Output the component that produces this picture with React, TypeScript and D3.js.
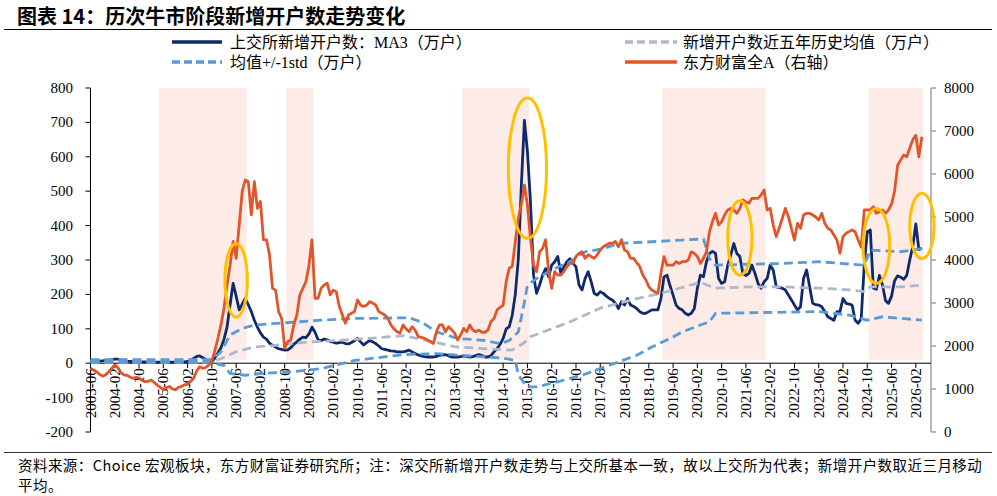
import React from "react";
import * as d3 from "d3";

// months counted from 2003-06
const START_YEAR = 2003;
const START_MONTH = 6;

const tickLabels = [
  "2003-06", "2004-02", "2004-10", "2005-06", "2006-02", "2006-10", "2007-06",
  "2008-02", "2008-10", "2009-06", "2010-02", "2010-10", "2011-06", "2012-02",
  "2012-10", "2013-06", "2014-02", "2014-10", "2015-06", "2016-02", "2016-10",
  "2017-06", "2018-02", "2018-10", "2019-06", "2020-02", "2020-10", "2021-06",
  "2022-02", "2022-10", "2023-06", "2024-02", "2024-10", "2025-06", "2026-02",
];

const leftTicks = [800, 700, 600, 500, 400, 300, 200, 100, 0, -100, -200];
const rightTicks = [8000, 7000, 6000, 5000, 4000, 3000, 2000, 1000, 0];

// 上交所新增开户数 MA3（万户），monthly from 2003-06
const ma3Values = [
  5, 5, 6, 6, 7, 8, 9,
  10, 12, 12, 10, 8, 6, 5, 5, 4, 4, 4, 4,
  4, 3, 3, 3, 3, 3, 3, 3, 3, 3, 3, 3,
  4, 5, 8, 14, 20, 21, 16, 10, 6, 5, 15, 30,
  45, 70, 105, 170, 232, 195, 155, 172, 188, 170, 150, 125,
  105, 88, 76, 70, 58, 52, 47, 42, 40, 38, 39, 45,
  55, 62, 70, 76, 74, 85, 105, 90, 68, 66, 70, 68,
  63, 61, 58, 60, 61, 57, 56, 60, 65, 72, 62, 53,
  60, 66, 62, 57, 50, 42, 40, 38, 36, 35, 33, 33,
  33, 35, 38, 33, 28, 24, 21, 19, 18, 18, 18, 20,
  23, 24, 25, 22, 18, 18, 18, 19, 21, 20, 18, 19,
  22, 25, 22, 18, 18, 22, 33, 42, 55, 72, 100, 106,
  140, 200, 304, 518, 706, 615, 469, 256, 203, 227, 256, 275,
  251, 285, 295, 310, 261, 280, 295, 304, 290, 280, 227, 213,
  246, 266, 237, 203, 198, 208, 203, 195, 188, 184, 174, 159,
  179, 169, 188, 169, 165, 159, 150, 145, 145, 150, 155, 155,
  155, 188, 251, 256, 225, 198, 169, 159, 155, 145, 140, 145,
  159, 218, 256, 251, 295, 319, 325, 319, 246, 232, 237, 285,
  314, 348, 319, 310, 261, 255, 261, 285, 261, 232, 218, 237,
  246, 285, 271, 222, 220, 218, 213, 198, 184, 169, 155, 164,
  246, 271, 222, 174, 170, 169, 164, 150, 135, 130, 125, 150,
  150, 188, 174, 172, 169, 125, 116, 130, 285, 382, 387, 218,
  215, 255, 228, 182, 174, 195, 240, 254, 250, 244, 255, 300,
  340, 405, 330, 335,
];

// 东方财富全A（右轴），monthly from 2003-06
const indexValues = [
  1480, 1440, 1400, 1340, 1300, 1330, 1400,
  1480, 1560, 1500, 1380, 1330, 1320, 1280, 1250, 1270, 1260, 1200, 1170,
  1180, 1210, 1150, 1090, 1040, 990, 1030, 1060, 1000, 980, 1040, 1060,
  1100, 1110, 1180, 1250, 1420, 1520, 1480, 1500, 1560, 1640, 1900, 2180,
  2490, 2880, 3420, 3880, 4430, 4040, 4810, 5590, 5860, 5820, 5050, 5820,
  5200, 5360, 4470, 4470, 4120, 3340, 3300, 2800, 2640, 1950, 2100, 2140,
  2490, 2720, 3190, 3340, 3500, 3880, 4470, 3110, 3110, 3340, 3420, 3460,
  3190, 3300, 3260, 2920, 2720, 2530, 2720, 2760, 2800, 3070, 2950, 2920,
  2950, 3030, 3000, 2950, 2800, 2760, 2720, 2640, 2490, 2400, 2330, 2300,
  2490, 2400, 2330, 2450, 2370, 2220, 2200, 2180, 2140, 2100, 2060, 2330,
  2490, 2490, 2330, 2450, 2380, 2300, 2140, 2260, 2410, 2330, 2490, 2370,
  2330, 2370, 2320, 2320, 2370, 2570, 2640, 2840, 2900, 2950, 3500, 3810,
  3850, 4430, 4970, 5300, 5740, 5280, 4500, 3880, 3730, 4190, 4270, 4470,
  3730, 3340, 3730, 3650, 3650, 3730, 3850, 3920, 3920, 4080, 4150, 4190,
  4040, 4120, 4080, 4040, 4120, 4230, 4310, 4350, 4390, 4390, 4430, 4310,
  4470, 4230, 4190, 4040, 4040, 3940, 3850, 3650, 3540, 3380, 3300, 3260,
  3225, 3690, 4080, 3880, 3880, 3880, 3960, 3920, 3960, 3960, 4000, 4190,
  4155, 4080, 3920, 4040, 4190, 4660, 4900, 5085, 4814, 4892, 5046, 5163,
  5200, 5163, 5085, 5200, 5395, 5350, 5318, 5434, 5434, 5434, 5511, 5628,
  5163, 5201, 4814, 4543, 4750, 4969, 5201, 5008, 4736, 4465, 4853, 4736,
  5046, 5085, 5085, 5046, 5000, 4930, 5085, 4853, 4736, 4698, 4581, 4465,
  4155, 4543, 4620, 4660, 4698, 4659, 4465, 4300, 5163, 5163, 5163, 5240,
  5085, 5124, 5163, 5085, 5163, 5300, 5600, 6200, 6326, 6442, 6400, 6600,
  6800, 6900, 6400, 6868,
];

// 新增开户数近五年历史均值（万户）
const meanPoints: [string, number][] = [
  ["2003-06", 5], ["2006-10", 5], ["2007-01", 13], ["2007-06", 33], ["2007-12", 47],
  ["2008-07", 52], ["2009-05", 61], ["2010-03", 66], ["2011-02", 72], ["2012-01", 80],
  ["2012-10", 64], ["2013-06", 48], ["2014-04", 42], ["2015-01", 38], ["2015-05", 60],
  ["2015-07", 77], ["2016-08", 120], ["2017-06", 160], ["2018-06", 188], ["2019-02", 203],
  ["2020-03", 235], ["2020-05", 228], ["2020-08", 218], ["2021-07", 222], ["2022-06", 222],
  ["2023-06", 218], ["2024-04", 213], ["2024-09", 208], ["2024-11", 222], ["2025-09", 222],
  ["2026-04", 227],
];

// 均值+1std
const upperPoints: [string, number][] = [
  ["2003-06", 10], ["2006-10", 10], ["2007-01", 33], ["2007-04", 82], ["2007-08", 101],
  ["2007-12", 111], ["2008-06", 115], ["2009-10", 125], ["2010-09", 130], ["2012-03", 132],
  ["2012-07", 120], ["2012-12", 91], ["2013-07", 72], ["2014-04", 66], ["2014-09", 57],
  ["2014-12", 66], ["2015-03", 91], ["2015-05", 178], ["2015-06", 227], ["2015-09", 246],
  ["2016-02", 271], ["2016-08", 295], ["2017-01", 324], ["2017-07", 333], ["2017-12", 348],
  ["2018-11", 353], ["2019-09", 358], ["2020-04", 361], ["2020-06", 304], ["2020-08", 285],
  ["2022-06", 290], ["2023-06", 295], ["2024-09", 285], ["2024-11", 329], ["2025-09", 324],
  ["2026-04", 333],
];

// 均值-1std
const lowerPoints: [string, number][] = [
  ["2003-06", 2], ["2006-10", 2], ["2007-02", -7], ["2007-04", -30], ["2007-09", -35],
  ["2008-02", -30], ["2008-11", -26], ["2009-10", -16], ["2010-09", 8], ["2011-02", 13],
  ["2012-01", 25], ["2012-12", 28], ["2013-11", 21], ["2014-10", 15], ["2015-02", 8],
  ["2015-03", -35], ["2015-06", -69], ["2015-09", -69], ["2016-04", -54], ["2016-12", -35],
  ["2017-09", -6], ["2018-06", 23], ["2018-11", 47], ["2019-05", 72], ["2019-09", 91],
  ["2020-03", 111], ["2020-06", 120], ["2020-08", 145], ["2023-06", 150], ["2024-04", 140],
  ["2024-10", 125], ["2025-03", 135], ["2026-04", 125],
];

// 牛市阶段
const bullPeriods: [string, string][] = [
  ["2005-05", "2007-09"],
  ["2008-11", "2009-07"],
  ["2013-09", "2015-06"],
  ["2019-03", "2021-12"],
  ["2024-11", "2026-04"],
];

// highlighted spikes: centre month, centre value (left axis), half width in months, half height
const highlights: [string, number, number, number][] = [
  ["2007-06", 241, 3.7, 107],
  ["2015-06", 567, 6.3, 204],
  ["2021-04", 364, 4, 108],
  ["2025-01", 341, 4.4, 109],
  ["2026-04", 399, 4, 95],
];

const monthIndex = (s: string) => {
  const [y, m] = s.split("-").map(Number);
  return (y - START_YEAR) * 12 + (m - START_MONTH);
};

const SERIF = '"Liberation Serif", "Noto Sans CJK SC", serif';
const SANS = '"Noto Sans CJK SC", "Noto Sans", sans-serif';

const NAVY = "#10296b";
const ORANGE = "#e0552a";
const LIGHT_BLUE = "#5b9bd5";
const GREY = "#adb9ca";
const SHADE = "#fcebe7";
const YELLOW = "#ffc000";

export default function App() {
  const width = 997;
  const height = 496;

  const x = d3.scaleLinear().domain([0, 277]).range([90.5, 931]);
  const yL = d3.scaleLinear().domain([-200, 800]).range([432, 88]);
  const yR = d3.scaleLinear().domain([0, 8000]).range([432, 88]);

  const lineL = d3
    .line<[number, number]>()
    .x((d) => x(d[0]))
    .y((d) => yL(d[1]));
  const lineR = d3
    .line<[number, number]>()
    .x((d) => x(d[0]))
    .y((d) => yR(d[1]));

  const toPts = (arr: [string, number][]) =>
    arr.map(([m, v]) => [monthIndex(m), v] as [number, number]);

  const ma3Path = lineL(ma3Values.map((v, i) => [i, v] as [number, number])) || "";
  const idxPath = lineR(indexValues.map((v, i) => [i, v] as [number, number])) || "";
  const meanPath = lineL(toPts(meanPoints)) || "";
  const upperPath = lineL(toPts(upperPoints)) || "";
  const lowerPath = lineL(toPts(lowerPoints)) || "";

  const zeroY = yL(0);
  const dash = "9 5";

  return (
    <svg
      width={width}
      height={height}
      style={{ position: "absolute", left: 0, top: 0, background: "#fff" }}
    >
      {/* title */}
      <text x={17} y={24} fontFamily={SANS} fontWeight={700} fontSize={20} fill="#000">
        图表 14：历次牛市阶段新增开户数走势变化
      </text>
      <line x1={4} x2={992} y1={29.5} y2={29.5} stroke="#000" strokeWidth={1} />

      {/* legend */}
      <g fontFamily={SERIF} fontSize={16} fill="#000">
        <line x1={172} x2={222} y1={42} y2={42} stroke={NAVY} strokeWidth={3.5} />
        <text x={230} y={42} dominantBaseline="central">上交所新增开户数：MA3（万户）</text>
        <line x1={172} x2={222} y1={62} y2={62} stroke={LIGHT_BLUE} strokeWidth={3.5} strokeDasharray="8 4" />
        <text x={230} y={62} dominantBaseline="central">均值+/-1std（万户）</text>
        <line x1={625} x2={677} y1={42} y2={42} stroke={GREY} strokeWidth={3.5} strokeDasharray="8 4" />
        <text x={683} y={42} dominantBaseline="central">新增开户数近五年历史均值（万户）</text>
        <line x1={625} x2={677} y1={62} y2={62} stroke={ORANGE} strokeWidth={3.5} />
        <text x={683} y={62} dominantBaseline="central">东方财富全A（右轴）</text>
      </g>

      {/* bull market shading */}
      {bullPeriods.map(([a, b]) => (
        <rect
          key={a}
          x={x(monthIndex(a) - 0.5)}
          width={x(monthIndex(b) + 0.5) - x(monthIndex(a) - 0.5)}
          y={yL(800)}
          height={yL(10) - yL(800)}
          fill={SHADE}
        />
      ))}

      {/* left axis */}
      <g fontFamily={SERIF} fontSize={15} fill="#000">
        <line x1={x(0)} x2={x(0)} y1={yL(800)} y2={yL(-200)} stroke="#000" strokeWidth={1} />
        {leftTicks.map((t) => (
          <g key={t}>
            <line x1={x(0) - 5} x2={x(0)} y1={yL(t)} y2={yL(t)} stroke="#000" />
            <text x={73} y={yL(t)} textAnchor="end" dominantBaseline="central">
              {t}
            </text>
          </g>
        ))}
      </g>

      {/* right axis */}
      <g fontFamily={SERIF} fontSize={15} fill="#000">
        <line x1={931} x2={931} y1={yR(8000)} y2={yR(0)} stroke="#a0a0a0" strokeWidth={1.5} />
        {rightTicks.map((t) => (
          <g key={t}>
            <line x1={931} x2={936} y1={yR(t)} y2={yR(t)} stroke="#a0a0a0" strokeWidth={1.5} />
            <text x={944} y={yR(t)} dominantBaseline="central">
              {t}
            </text>
          </g>
        ))}
      </g>

      {/* x axis */}
      <g fontFamily={SERIF} fontSize={15} fill="#000">
        <line x1={x(0)} x2={931} y1={zeroY} y2={zeroY} stroke="#000" strokeWidth={1} />
        {tickLabels.map((lab) => {
          const px = x(monthIndex(lab));
          return (
            <g key={lab}>
              <line x1={px} x2={px} y1={zeroY} y2={zeroY + 5} stroke="#000" />
              <text
                transform={`translate(${px},${zeroY + 5}) rotate(-90)`}
                textAnchor="end"
                dominantBaseline="central"
              >
                {lab}
              </text>
            </g>
          );
        })}
      </g>

      {/* series */}
      <path d={ma3Path} fill="none" stroke={NAVY} strokeWidth={2.8} strokeLinejoin="round" />
      <path d={meanPath} fill="none" stroke={GREY} strokeWidth={2.8} strokeDasharray={dash} />
      <path d={upperPath} fill="none" stroke={LIGHT_BLUE} strokeWidth={2.8} strokeDasharray={dash} />
      <path d={lowerPath} fill="none" stroke={LIGHT_BLUE} strokeWidth={2.8} strokeDasharray={dash} />
      <path d={idxPath} fill="none" stroke={ORANGE} strokeWidth={2.8} strokeLinejoin="round" />

      {/* highlight ellipses */}
      {highlights.map(([m, v, hm, hv]) => {
        const cx = x(monthIndex(m));
        return (
          <ellipse
            key={m}
            cx={cx}
            cy={yL(v)}
            rx={x(monthIndex(m) + hm) - cx}
            ry={yL(0) - yL(hv)}
            fill="none"
            stroke={YELLOW}
            strokeWidth={3}
          />
        );
      })}

      {/* source */}
      <line x1={4} x2={992} y1={452.5} y2={452.5} stroke="#000" strokeWidth={0.8} />
      <g fontFamily={SANS} fontSize={14.5} fill="#000" letterSpacing={0.45}>
        <text x={18} y={471}>
          资料来源：Choice 宏观板块，东方财富证券研究所；注：深交所新增开户数走势与上交所基本一致，故以上交所为代表；新增开户数取近三月移动
        </text>
        <text x={18} y={491}>平均。</text>
      </g>
    </svg>
  );
}
